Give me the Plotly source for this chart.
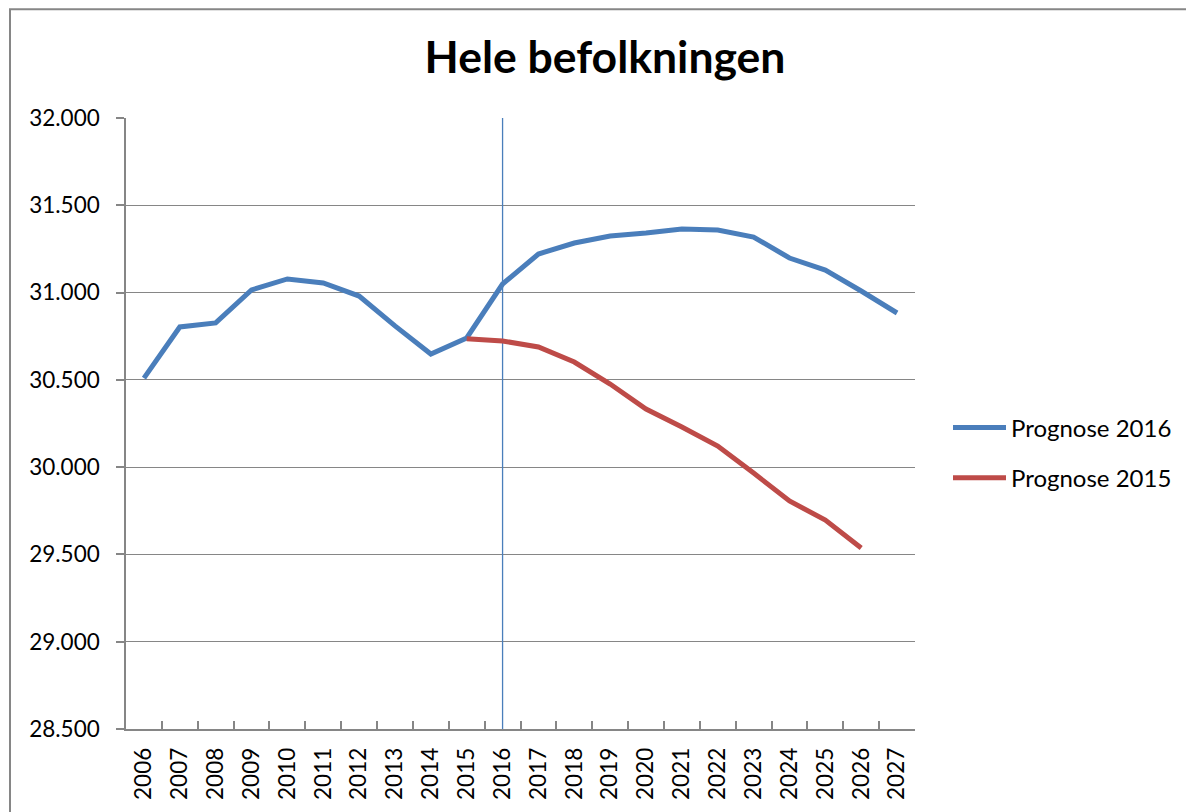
import plotly.graph_objects as go

years = [str(y) for y in range(2006, 2028)]
prognose_2016 = [30510, 30803, 30826, 31015, 31078, 31055, 30980, 30809, 30648, 30740,
                 31049, 31221, 31284, 31324, 31341, 31364, 31358, 31318, 31198, 31129,
                 31009, 30883]
prognose_2015 = [None] * 9 + [30735, 30723, 30688, 30602, 30476, 30333, 30230, 30121,
                              29966, 29806, 29697, 29537, None]
marker_year = "2016"
y_min, y_max, y_step = 28500, 32000, 500

# page offset of the figure inside the html body
OFF = 8
W, H = 1194, 812
# plot area in screenshot pixels
PL, PR, PT, PB = 126, 915, 118, 729
pw, ph = PR - PL, PB - PT

def px(xp):
    return (xp - PL) / pw

def py(yp):
    return (PB - yp) / ph

fig = go.Figure()
fig.add_trace(go.Scatter(x=[marker_year, marker_year], y=[y_min, y_max], mode="lines",
                         line=dict(color="#4a7ebb", width=1.3), showlegend=False,
                         hoverinfo="skip"))
fig.add_trace(go.Scatter(x=years, y=prognose_2016, mode="lines", name="Prognose 2016",
                         line=dict(color="#4a7ebb", width=5), legendgroup="a"))
fig.add_trace(go.Scatter(x=years, y=prognose_2015, mode="lines", name="Prognose 2015",
                         line=dict(color="#be4b48", width=5), legendgroup="b"))

font = "Lato, 'Open Sans', sans-serif"
fig.update_layout(
    width=W, height=H,
    margin=dict(l=PL - OFF, r=W - (PR - OFF), t=PT - OFF, b=H - (PB - OFF), autoexpand=False),
    paper_bgcolor="white", plot_bgcolor="white",
    separators=",.",
    font=dict(family=font, size=22, color="black"),
    title=dict(text="<b>Hele befolkningen</b>", x=(605 - OFF) / W, xref="container",
               xanchor="center", y=1 - (57 - OFF) / H, yref="container", yanchor="middle",
               font=dict(family=font, size=44.5, color="black")),
    showlegend=True,
    legend=dict(x=px(948), y=py(453), xanchor="left", yanchor="middle",
                font=dict(family=font, size=24, color="black"),
                itemwidth=53, tracegroupgap=16, bgcolor="rgba(0,0,0,0)"),
    xaxis=dict(type="category", categoryorder="array", categoryarray=years,
               range=[-0.5, len(years) - 0.5],
               tickangle=-90, ticks="inside", tickson="boundaries", ticklen=8,
               tickcolor="#868686", tickwidth=1.5, showline=True, linecolor="#868686",
               linewidth=1.5, showgrid=False, ticklabelstandoff=8,
               tickfont=dict(family=font, size=22.5, color="black")),
    yaxis=dict(range=[y_min, y_max], dtick=y_step, tick0=y_min, tickformat=",.0f",
               ticks="outside", ticklen=8, tickcolor="#868686", tickwidth=1.5,
               showline=True, linecolor="#868686", linewidth=1.5,
               showgrid=True, gridcolor="#868686", gridwidth=1.3, zeroline=False,
               ticklabelstandoff=12,
               tickfont=dict(family=font, size=22.5, color="black")),
    shapes=[dict(type="rect", xref="paper", yref="paper",
                 x0=px(10), x1=px(1240), y0=py(860), y1=py(OFF + 1.2),
                 line=dict(color="#868686", width=2), fillcolor="rgba(0,0,0,0)",
                 layer="below")],
)

fig.write_html("out.html")
